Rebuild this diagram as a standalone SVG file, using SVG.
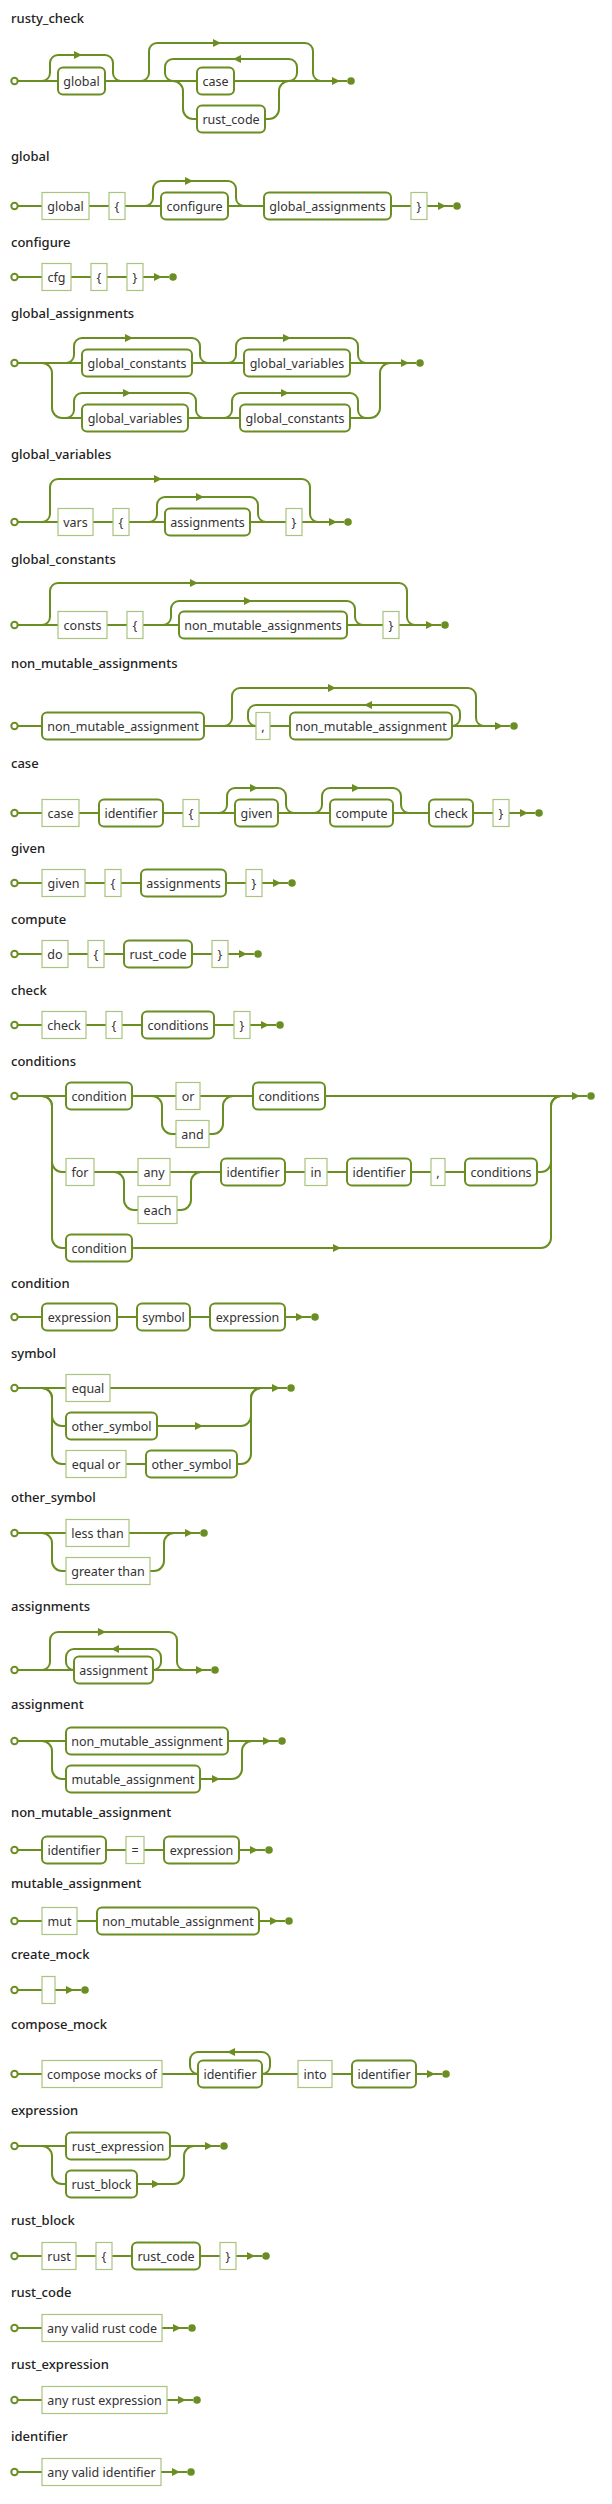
<svg xmlns="http://www.w3.org/2000/svg" xmlns:xlink="http://www.w3.org/1999/xlink" width="612" height="2504" viewBox="0 0 612 2504">
<style>
.t{font-family:"Noto Sans","Open Sans",sans-serif;font-size:13px;font-weight:500;fill:#222}
.l{font-family:"Noto Sans","Open Sans",sans-serif;font-size:12.5px;fill:#333;text-anchor:middle}
.nt rect{fill:#fff;stroke:#6b8e23;stroke-width:2}
.tm rect{fill:#fff;stroke:#a9c47f;stroke-width:1.2}
.c path{fill:none;stroke:#6b8e23;stroke-width:2}
.s{fill:#fff;stroke:#6b8e23;stroke-width:2}
.e{fill:#6b8e23}
</style>
<defs>
<path id="ar" d="M-8 -4L0 0L-8 4Z" fill="#6b8e23"/>
<path id="al" d="M8 -4L0 0L8 4Z" fill="#6b8e23"/>
</defs>
<rect width="612" height="2504" fill="#fff"/>

<g id="rusty_check">
<text class="t" x="11" y="23">rusty_check</text>
<g class="c">
<path d="M18 81H347"/>
<path d="M42 81A8 8 0 0 0 50 73V63A8 8 0 0 1 58 55H105A8 8 0 0 1 113 63V73A8 8 0 0 0 121 81"/>
<path d="M141 81A8 8 0 0 0 149 73V51A8 8 0 0 1 157 43H305A8 8 0 0 1 313 51V73A8 8 0 0 0 321 81"/>
<path d="M289 81A8 8 0 0 0 297 73V67A8 8 0 0 0 289 59H173A8 8 0 0 0 165 67V73A8 8 0 0 0 173 81"/>
<path d="M173 81A10 10 0 0 1 183 91V109A10 10 0 0 0 193 119H269A10 10 0 0 0 279 109V91A10 10 0 0 1 289 81"/>
<use href="#ar" x="82" y="55"/><use href="#ar" x="221" y="43"/><use href="#al" x="233" y="59"/>
<use href="#ar" x="340" y="81"/>
</g>
<circle class="s" cx="14.5" cy="81" r="3.2"/><circle class="e" cx="351" cy="81" r="3.8"/>
<g id="rusty_check-global" class="nt"><rect x="58" y="67.5" width="47" height="27" rx="5"/><text class="l" x="81.5" y="85.5">global</text></g>
<g id="rusty_check-case" class="nt"><rect x="197" y="67.5" width="37" height="27" rx="5"/><text class="l" x="215.5" y="85.5">case</text></g>
<g id="rusty_check-rust_code" class="nt"><rect x="197" y="105.5" width="68" height="27" rx="5"/><text class="l" x="231" y="123.5">rust_code</text></g>
</g>

<g id="global">
<text class="t" x="11" y="161">global</text>
<g class="c">
<path d="M18 206H453"/>
<path d="M145 206A8 8 0 0 0 153 198V189A8 8 0 0 1 161 181H228A8 8 0 0 1 236 189V198A8 8 0 0 0 244 206"/>
<use href="#ar" x="193" y="181"/><use href="#ar" x="446" y="206"/>
</g>
<circle class="s" cx="14.5" cy="206" r="3.2"/><circle class="e" cx="457" cy="206" r="3.8"/>
<g id="global-kw" class="tm"><rect x="42" y="192.5" width="47" height="27"/><text class="l" x="65.5" y="210.5">global</text></g>
<g id="global-lb" class="tm"><rect x="109" y="192.5" width="16" height="27"/><text class="l" x="117" y="210.5">{</text></g>
<g id="global-configure" class="nt"><rect x="161" y="192.5" width="67" height="27" rx="5"/><text class="l" x="194.5" y="210.5">configure</text></g>
<g id="global-global_assignments" class="nt"><rect x="264" y="192.5" width="127" height="27" rx="5"/><text class="l" x="327.5" y="210.5">global_assignments</text></g>
<g id="global-rb" class="tm"><rect x="411" y="192.5" width="16" height="27"/><text class="l" x="419" y="210.5">}</text></g>
</g>

<g id="configure">
<text class="t" x="11" y="247">configure</text>
<g class="c"><path d="M18 277H169"/><use href="#ar" x="162" y="277"/></g>
<circle class="s" cx="14.5" cy="277" r="3.2"/><circle class="e" cx="173" cy="277" r="3.8"/>
<g id="configure-cfg" class="tm"><rect x="42" y="263.5" width="29" height="27"/><text class="l" x="56.5" y="281.5">cfg</text></g>
<g id="configure-lb" class="tm"><rect x="91" y="263.5" width="16" height="27"/><text class="l" x="99" y="281.5">{</text></g>
<g id="configure-rb" class="tm"><rect x="127" y="263.5" width="16" height="27"/><text class="l" x="135" y="281.5">}</text></g>
</g>

<g id="global_assignments">
<text class="t" x="11" y="318">global_assignments</text>
<g class="c">
<path d="M18 363H416"/>
<path d="M42 363A10 10 0 0 1 52 373V408A10 10 0 0 0 62 418H370A10 10 0 0 0 380 408V373A10 10 0 0 1 390 363"/>
<path d="M66 363A8 8 0 0 0 74 355V346A8 8 0 0 1 82 338H192A8 8 0 0 1 200 346V355A8 8 0 0 0 208 363"/>
<path d="M228 363A8 8 0 0 0 236 355V346A8 8 0 0 1 244 338H350A8 8 0 0 1 358 346V355A8 8 0 0 0 366 363"/>
<path d="M66 418A8 8 0 0 0 74 410V401A8 8 0 0 1 82 393H188A8 8 0 0 1 196 401V410A8 8 0 0 0 204 418"/>
<path d="M224 418A8 8 0 0 0 232 410V401A8 8 0 0 1 240 393H350A8 8 0 0 1 358 401V410A8 8 0 0 0 366 418"/>
<use href="#ar" x="133" y="338"/><use href="#ar" x="291" y="338"/><use href="#ar" x="131" y="393"/><use href="#ar" x="289" y="393"/>
<use href="#ar" x="409" y="363"/>
</g>
<circle class="s" cx="14.5" cy="363" r="3.2"/><circle class="e" cx="420" cy="363" r="3.8"/>
<g id="global_assignments-c1" class="nt"><rect x="82" y="349.5" width="110" height="27" rx="5"/><text class="l" x="137" y="367.5">global_constants</text></g>
<g id="global_assignments-v1" class="nt"><rect x="244" y="349.5" width="106" height="27" rx="5"/><text class="l" x="297" y="367.5">global_variables</text></g>
<g id="global_assignments-v2" class="nt"><rect x="82" y="404.5" width="106" height="27" rx="5"/><text class="l" x="135" y="422.5">global_variables</text></g>
<g id="global_assignments-c2" class="nt"><rect x="240" y="404.5" width="110" height="27" rx="5"/><text class="l" x="295" y="422.5">global_constants</text></g>
</g>

<g id="global_variables">
<text class="t" x="11" y="459">global_variables</text>
<g class="c">
<path d="M18 522H344"/>
<path d="M42 522A8 8 0 0 0 50 514V487A8 8 0 0 1 58 479H302A8 8 0 0 1 310 487V514A8 8 0 0 0 318 522"/>
<path d="M149 522A8 8 0 0 0 157 514V505A8 8 0 0 1 165 497H250A8 8 0 0 1 258 505V514A8 8 0 0 0 266 522"/>
<use href="#ar" x="162" y="479"/><use href="#ar" x="204" y="497"/><use href="#ar" x="337" y="522"/>
</g>
<circle class="s" cx="14.5" cy="522" r="3.2"/><circle class="e" cx="348" cy="522" r="3.8"/>
<g id="global_variables-vars" class="tm"><rect x="58" y="508.5" width="35" height="27"/><text class="l" x="75.5" y="526.5">vars</text></g>
<g id="global_variables-lb" class="tm"><rect x="113" y="508.5" width="16" height="27"/><text class="l" x="121" y="526.5">{</text></g>
<g id="global_variables-assignments" class="nt"><rect x="165" y="508.5" width="85" height="27" rx="5"/><text class="l" x="207.5" y="526.5">assignments</text></g>
<g id="global_variables-rb" class="tm"><rect x="286" y="508.5" width="16" height="27"/><text class="l" x="294" y="526.5">}</text></g>
</g>

<g id="global_constants">
<text class="t" x="11" y="564">global_constants</text>
<g class="c">
<path d="M18 625H441"/>
<path d="M42 625A8 8 0 0 0 50 617V591A8 8 0 0 1 58 583H399A8 8 0 0 1 407 591V617A8 8 0 0 0 415 625"/>
<path d="M163 625A8 8 0 0 0 171 617V609A8 8 0 0 1 179 601H347A8 8 0 0 1 355 609V617A8 8 0 0 0 363 625"/>
<use href="#ar" x="198" y="583"/><use href="#ar" x="252" y="601"/><use href="#ar" x="434" y="625"/>
</g>
<circle class="s" cx="14.5" cy="625" r="3.2"/><circle class="e" cx="445" cy="625" r="3.8"/>
<g id="global_constants-consts" class="tm"><rect x="58" y="611.5" width="49" height="27"/><text class="l" x="82.5" y="629.5">consts</text></g>
<g id="global_constants-lb" class="tm"><rect x="127" y="611.5" width="16" height="27"/><text class="l" x="135" y="629.5">{</text></g>
<g id="global_constants-nmas" class="nt"><rect x="179" y="611.5" width="168" height="27" rx="5"/><text class="l" x="263" y="629.5">non_mutable_assignments</text></g>
<g id="global_constants-rb" class="tm"><rect x="383" y="611.5" width="16" height="27"/><text class="l" x="391" y="629.5">}</text></g>
</g>

<g id="non_mutable_assignments">
<text class="t" x="11" y="668">non_mutable_assignments</text>
<g class="c">
<path d="M18 726H510"/>
<path d="M224 726A8 8 0 0 0 232 718V696A8 8 0 0 1 240 688H468A8 8 0 0 1 476 696V718A8 8 0 0 0 484 726"/>
<path d="M452 726A8 8 0 0 0 460 718V713A8 8 0 0 0 452 705H256A8 8 0 0 0 248 713V718A8 8 0 0 0 256 726"/>
<use href="#ar" x="336" y="688"/><use href="#al" x="364" y="705"/><use href="#ar" x="503" y="726"/>
</g>
<circle class="s" cx="14.5" cy="726" r="3.2"/><circle class="e" cx="514" cy="726" r="3.8"/>
<g id="non_mutable_assignments-nma1" class="nt"><rect x="42" y="712.5" width="162" height="27" rx="5"/><text class="l" x="123" y="730.5">non_mutable_assignment</text></g>
<g id="non_mutable_assignments-comma" class="tm"><rect x="256" y="712.5" width="14" height="27"/><text class="l" x="263" y="730.5">,</text></g>
<g id="non_mutable_assignments-nma2" class="nt"><rect x="290" y="712.5" width="162" height="27" rx="5"/><text class="l" x="371" y="730.5">non_mutable_assignment</text></g>
</g>

<g id="case">
<text class="t" x="11" y="768">case</text>
<g class="c">
<path d="M18 813H535"/>
<path d="M219 813A8 8 0 0 0 227 805V796A8 8 0 0 1 235 788H278A8 8 0 0 1 286 796V805A8 8 0 0 0 294 813"/>
<path d="M314 813A8 8 0 0 0 322 805V796A8 8 0 0 1 330 788H393A8 8 0 0 1 401 796V805A8 8 0 0 0 409 813"/>
<use href="#ar" x="258" y="788"/><use href="#ar" x="360" y="788"/><use href="#ar" x="528" y="813"/>
</g>
<circle class="s" cx="14.5" cy="813" r="3.2"/><circle class="e" cx="539" cy="813" r="3.8"/>
<g id="case-kw" class="tm"><rect x="42" y="799.5" width="37" height="27"/><text class="l" x="60.5" y="817.5">case</text></g>
<g id="case-identifier" class="nt"><rect x="99" y="799.5" width="64" height="27" rx="5"/><text class="l" x="131" y="817.5">identifier</text></g>
<g id="case-lb" class="tm"><rect x="183" y="799.5" width="16" height="27"/><text class="l" x="191" y="817.5">{</text></g>
<g id="case-given" class="nt"><rect x="235" y="799.5" width="43" height="27" rx="5"/><text class="l" x="256.5" y="817.5">given</text></g>
<g id="case-compute" class="nt"><rect x="330" y="799.5" width="63" height="27" rx="5"/><text class="l" x="361.5" y="817.5">compute</text></g>
<g id="case-check" class="nt"><rect x="429" y="799.5" width="44" height="27" rx="5"/><text class="l" x="451" y="817.5">check</text></g>
<g id="case-rb" class="tm"><rect x="493" y="799.5" width="16" height="27"/><text class="l" x="501" y="817.5">}</text></g>
</g>

<g id="given">
<text class="t" x="11" y="853">given</text>
<g class="c"><path d="M18 883H288"/><use href="#ar" x="281" y="883"/></g>
<circle class="s" cx="14.5" cy="883" r="3.2"/><circle class="e" cx="292" cy="883" r="3.8"/>
<g id="given-kw" class="tm"><rect x="42" y="869.5" width="43" height="27"/><text class="l" x="63.5" y="887.5">given</text></g>
<g id="given-lb" class="tm"><rect x="105" y="869.5" width="16" height="27"/><text class="l" x="113" y="887.5">{</text></g>
<g id="given-assignments" class="nt"><rect x="141" y="869.5" width="85" height="27" rx="5"/><text class="l" x="183.5" y="887.5">assignments</text></g>
<g id="given-rb" class="tm"><rect x="246" y="869.5" width="16" height="27"/><text class="l" x="254" y="887.5">}</text></g>
</g>

<g id="compute">
<text class="t" x="11" y="924">compute</text>
<g class="c"><path d="M18 954H254"/><use href="#ar" x="247" y="954"/></g>
<circle class="s" cx="14.5" cy="954" r="3.2"/><circle class="e" cx="258" cy="954" r="3.8"/>
<g id="compute-do" class="tm"><rect x="42" y="940.5" width="26" height="27"/><text class="l" x="55" y="958.5">do</text></g>
<g id="compute-lb" class="tm"><rect x="88" y="940.5" width="16" height="27"/><text class="l" x="96" y="958.5">{</text></g>
<g id="compute-rust_code" class="nt"><rect x="124" y="940.5" width="68" height="27" rx="5"/><text class="l" x="158" y="958.5">rust_code</text></g>
<g id="compute-rb" class="tm"><rect x="212" y="940.5" width="16" height="27"/><text class="l" x="220" y="958.5">}</text></g>
</g>

<g id="check">
<text class="t" x="11" y="995">check</text>
<g class="c"><path d="M18 1025H276"/><use href="#ar" x="269" y="1025"/></g>
<circle class="s" cx="14.5" cy="1025" r="3.2"/><circle class="e" cx="280" cy="1025" r="3.8"/>
<g id="check-kw" class="tm"><rect x="42" y="1011.5" width="44" height="27"/><text class="l" x="64" y="1029.5">check</text></g>
<g id="check-lb" class="tm"><rect x="106" y="1011.5" width="16" height="27"/><text class="l" x="114" y="1029.5">{</text></g>
<g id="check-conditions" class="nt"><rect x="142" y="1011.5" width="72" height="27" rx="5"/><text class="l" x="178" y="1029.5">conditions</text></g>
<g id="check-rb" class="tm"><rect x="234" y="1011.5" width="16" height="27"/><text class="l" x="242" y="1029.5">}</text></g>
</g>

<g id="conditions">
<text class="t" x="11" y="1066">conditions</text>
<g class="c">
<path d="M18 1096H587"/>
<path d="M42 1096A10 10 0 0 1 52 1106V1162A10 10 0 0 0 62 1172H541A10 10 0 0 0 551 1162V1106A10 10 0 0 1 561 1096"/>
<path d="M42 1096A10 10 0 0 1 52 1106V1238A10 10 0 0 0 62 1248H541A10 10 0 0 0 551 1238V1106A10 10 0 0 1 561 1096"/>
<path d="M152 1096A10 10 0 0 1 162 1106V1124A10 10 0 0 0 172 1134H213A10 10 0 0 0 223 1124V1106A10 10 0 0 1 233 1096"/>
<path d="M114 1172A10 10 0 0 1 124 1182V1200A10 10 0 0 0 134 1210H181A10 10 0 0 0 191 1200V1182A10 10 0 0 1 201 1172"/>
<use href="#ar" x="341" y="1248"/><use href="#ar" x="580" y="1096"/>
</g>
<circle class="s" cx="14.5" cy="1096" r="3.2"/><circle class="e" cx="591" cy="1096" r="3.8"/>
<g id="conditions-condition1" class="nt"><rect x="66" y="1082.5" width="66" height="27" rx="5"/><text class="l" x="99" y="1100.5">condition</text></g>
<g id="conditions-or" class="tm"><rect x="176" y="1082.5" width="24" height="27"/><text class="l" x="188" y="1100.5">or</text></g>
<g id="conditions-and" class="tm"><rect x="176" y="1120.5" width="33" height="27"/><text class="l" x="192.5" y="1138.5">and</text></g>
<g id="conditions-conditions1" class="nt"><rect x="253" y="1082.5" width="72" height="27" rx="5"/><text class="l" x="289" y="1100.5">conditions</text></g>
<g id="conditions-for" class="tm"><rect x="66" y="1158.5" width="28" height="27"/><text class="l" x="80" y="1176.5">for</text></g>
<g id="conditions-any" class="tm"><rect x="138" y="1158.5" width="32" height="27"/><text class="l" x="154" y="1176.5">any</text></g>
<g id="conditions-each" class="tm"><rect x="138" y="1196.5" width="39" height="27"/><text class="l" x="157.5" y="1214.5">each</text></g>
<g id="conditions-identifier1" class="nt"><rect x="221" y="1158.5" width="64" height="27" rx="5"/><text class="l" x="253" y="1176.5">identifier</text></g>
<g id="conditions-in" class="tm"><rect x="305" y="1158.5" width="22" height="27"/><text class="l" x="316" y="1176.5">in</text></g>
<g id="conditions-identifier2" class="nt"><rect x="347" y="1158.5" width="64" height="27" rx="5"/><text class="l" x="379" y="1176.5">identifier</text></g>
<g id="conditions-comma" class="tm"><rect x="431" y="1158.5" width="14" height="27"/><text class="l" x="438" y="1176.5">,</text></g>
<g id="conditions-conditions2" class="nt"><rect x="465" y="1158.5" width="72" height="27" rx="5"/><text class="l" x="501" y="1176.5">conditions</text></g>
<g id="conditions-condition2" class="nt"><rect x="66" y="1234.5" width="66" height="27" rx="5"/><text class="l" x="99" y="1252.5">condition</text></g>
</g>

<g id="condition">
<text class="t" x="11" y="1288">condition</text>
<g class="c"><path d="M18 1317H311"/><use href="#ar" x="304" y="1317"/></g>
<circle class="s" cx="14.5" cy="1317" r="3.2"/><circle class="e" cx="315" cy="1317" r="3.8"/>
<g id="condition-expression1" class="nt"><rect x="42" y="1303.5" width="75" height="27" rx="5"/><text class="l" x="79.5" y="1321.5">expression</text></g>
<g id="condition-symbol" class="nt"><rect x="137" y="1303.5" width="53" height="27" rx="5"/><text class="l" x="163.5" y="1321.5">symbol</text></g>
<g id="condition-expression2" class="nt"><rect x="210" y="1303.5" width="75" height="27" rx="5"/><text class="l" x="247.5" y="1321.5">expression</text></g>
</g>

<g id="symbol">
<text class="t" x="11" y="1358">symbol</text>
<g class="c">
<path d="M18 1388H287"/>
<path d="M42 1388A10 10 0 0 1 52 1398V1416A10 10 0 0 0 62 1426H241A10 10 0 0 0 251 1416V1398A10 10 0 0 1 261 1388"/>
<path d="M42 1388A10 10 0 0 1 52 1398V1454A10 10 0 0 0 62 1464H241A10 10 0 0 0 251 1454V1398A10 10 0 0 1 261 1388"/>
<use href="#ar" x="203" y="1426"/><use href="#ar" x="280" y="1388"/>
</g>
<circle class="s" cx="14.5" cy="1388" r="3.2"/><circle class="e" cx="291" cy="1388" r="3.8"/>
<g id="symbol-equal" class="tm"><rect x="66" y="1374.5" width="44" height="27"/><text class="l" x="88" y="1392.5">equal</text></g>
<g id="symbol-other_symbol1" class="nt"><rect x="66" y="1412.5" width="91" height="27" rx="5"/><text class="l" x="111.5" y="1430.5">other_symbol</text></g>
<g id="symbol-equal_or" class="tm"><rect x="66" y="1450.5" width="60" height="27"/><text class="l" x="96" y="1468.5">equal or</text></g>
<g id="symbol-other_symbol2" class="nt"><rect x="146" y="1450.5" width="91" height="27" rx="5"/><text class="l" x="191.5" y="1468.5">other_symbol</text></g>
</g>

<g id="other_symbol">
<text class="t" x="11" y="1502">other_symbol</text>
<g class="c">
<path d="M18 1533H200"/>
<path d="M42 1533A10 10 0 0 1 52 1543V1561A10 10 0 0 0 62 1571H154A10 10 0 0 0 164 1561V1543A10 10 0 0 1 174 1533"/>
<use href="#ar" x="193" y="1533"/>
</g>
<circle class="s" cx="14.5" cy="1533" r="3.2"/><circle class="e" cx="204" cy="1533" r="3.8"/>
<g id="other_symbol-less" class="tm"><rect x="66" y="1519.5" width="63" height="27"/><text class="l" x="97.5" y="1537.5">less than</text></g>
<g id="other_symbol-greater" class="tm"><rect x="66" y="1557.5" width="84" height="27"/><text class="l" x="108" y="1575.5">greater than</text></g>
</g>

<g id="assignments">
<text class="t" x="11" y="1611">assignments</text>
<g class="c">
<path d="M18 1670H211"/>
<path d="M42 1670A8 8 0 0 0 50 1662V1640A8 8 0 0 1 58 1632H169A8 8 0 0 1 177 1640V1662A8 8 0 0 0 185 1670"/>
<path d="M153 1670A8 8 0 0 0 161 1662V1657A8 8 0 0 0 153 1649H74A8 8 0 0 0 66 1657V1662A8 8 0 0 0 74 1670"/>
<use href="#ar" x="106" y="1632"/><use href="#al" x="111" y="1649"/><use href="#ar" x="204" y="1670"/>
</g>
<circle class="s" cx="14.5" cy="1670" r="3.2"/><circle class="e" cx="215" cy="1670" r="3.8"/>
<g id="assignments-assignment" class="nt"><rect x="74" y="1656.5" width="79" height="27" rx="5"/><text class="l" x="113.5" y="1674.5">assignment</text></g>
</g>

<g id="assignment">
<text class="t" x="11" y="1709">assignment</text>
<g class="c">
<path d="M18 1741H278"/>
<path d="M42 1741A10 10 0 0 1 52 1751V1769A10 10 0 0 0 62 1779H232A10 10 0 0 0 242 1769V1751A10 10 0 0 1 252 1741"/>
<use href="#ar" x="220" y="1779"/><use href="#ar" x="271" y="1741"/>
</g>
<circle class="s" cx="14.5" cy="1741" r="3.2"/><circle class="e" cx="282" cy="1741" r="3.8"/>
<g id="assignment-nma" class="nt"><rect x="66" y="1727.5" width="162" height="27" rx="5"/><text class="l" x="147" y="1745.5">non_mutable_assignment</text></g>
<g id="assignment-ma" class="nt"><rect x="66" y="1765.5" width="134" height="27" rx="5"/><text class="l" x="133" y="1783.5">mutable_assignment</text></g>
</g>

<g id="non_mutable_assignment">
<text class="t" x="11" y="1817">non_mutable_assignment</text>
<g class="c"><path d="M18 1850H265"/><use href="#ar" x="258" y="1850"/></g>
<circle class="s" cx="14.5" cy="1850" r="3.2"/><circle class="e" cx="269" cy="1850" r="3.8"/>
<g id="non_mutable_assignment-identifier" class="nt"><rect x="42" y="1836.5" width="64" height="27" rx="5"/><text class="l" x="74" y="1854.5">identifier</text></g>
<g id="non_mutable_assignment-eq" class="tm"><rect x="126" y="1836.5" width="18" height="27"/><text class="l" x="135" y="1854.5">=</text></g>
<g id="non_mutable_assignment-expression" class="nt"><rect x="164" y="1836.5" width="75" height="27" rx="5"/><text class="l" x="201.5" y="1854.5">expression</text></g>
</g>

<g id="mutable_assignment">
<text class="t" x="11" y="1888">mutable_assignment</text>
<g class="c"><path d="M18 1921H285"/><use href="#ar" x="278" y="1921"/></g>
<circle class="s" cx="14.5" cy="1921" r="3.2"/><circle class="e" cx="289" cy="1921" r="3.8"/>
<g id="mutable_assignment-mut" class="tm"><rect x="42" y="1907.5" width="35" height="27"/><text class="l" x="59.5" y="1925.5">mut</text></g>
<g id="mutable_assignment-nma" class="nt"><rect x="97" y="1907.5" width="162" height="27" rx="5"/><text class="l" x="178" y="1925.5">non_mutable_assignment</text></g>
</g>

<g id="create_mock">
<text class="t" x="11" y="1959">create_mock</text>
<g class="c"><path d="M18 1990H81"/><use href="#ar" x="74" y="1990"/></g>
<circle class="s" cx="14.5" cy="1990" r="3.2"/><circle class="e" cx="85" cy="1990" r="3.8"/>
<g id="create_mock-empty" class="tm"><rect x="42" y="1976.5" width="13" height="27"/></g>
</g>

<g id="compose_mock">
<text class="t" x="11" y="2029">compose_mock</text>
<g class="c">
<path d="M18 2074H442"/>
<path d="M262 2074A8 8 0 0 0 270 2066V2060A8 8 0 0 0 262 2052H198A8 8 0 0 0 190 2060V2066A8 8 0 0 0 198 2074"/>
<use href="#al" x="227" y="2052"/><use href="#ar" x="435" y="2074"/>
</g>
<circle class="s" cx="14.5" cy="2074" r="3.2"/><circle class="e" cx="446" cy="2074" r="3.8"/>
<g id="compose_mock-kw" class="tm"><rect x="42" y="2060.5" width="120" height="27"/><text class="l" x="102" y="2078.5">compose mocks of</text></g>
<g id="compose_mock-identifier1" class="nt"><rect x="198" y="2060.5" width="64" height="27" rx="5"/><text class="l" x="230" y="2078.5">identifier</text></g>
<g id="compose_mock-into" class="tm"><rect x="298" y="2060.5" width="34" height="27"/><text class="l" x="315" y="2078.5">into</text></g>
<g id="compose_mock-identifier2" class="nt"><rect x="352" y="2060.5" width="64" height="27" rx="5"/><text class="l" x="384" y="2078.5">identifier</text></g>
</g>

<g id="expression">
<text class="t" x="11" y="2115">expression</text>
<g class="c">
<path d="M18 2146H220"/>
<path d="M42 2146A10 10 0 0 1 52 2156V2174A10 10 0 0 0 62 2184H174A10 10 0 0 0 184 2174V2156A10 10 0 0 1 194 2146"/>
<use href="#ar" x="160" y="2184"/><use href="#ar" x="213" y="2146"/>
</g>
<circle class="s" cx="14.5" cy="2146" r="3.2"/><circle class="e" cx="224" cy="2146" r="3.8"/>
<g id="expression-rust_expression" class="nt"><rect x="66" y="2132.5" width="104" height="27" rx="5"/><text class="l" x="118" y="2150.5">rust_expression</text></g>
<g id="expression-rust_block" class="nt"><rect x="66" y="2170.5" width="71" height="27" rx="5"/><text class="l" x="101.5" y="2188.5">rust_block</text></g>
</g>

<g id="rust_block">
<text class="t" x="11" y="2225">rust_block</text>
<g class="c"><path d="M18 2256H262"/><use href="#ar" x="255" y="2256"/></g>
<circle class="s" cx="14.5" cy="2256" r="3.2"/><circle class="e" cx="266" cy="2256" r="3.8"/>
<g id="rust_block-rust" class="tm"><rect x="42" y="2242.5" width="34" height="27"/><text class="l" x="59" y="2260.5">rust</text></g>
<g id="rust_block-lb" class="tm"><rect x="96" y="2242.5" width="16" height="27"/><text class="l" x="104" y="2260.5">{</text></g>
<g id="rust_block-rust_code" class="nt"><rect x="132" y="2242.5" width="68" height="27" rx="5"/><text class="l" x="166" y="2260.5">rust_code</text></g>
<g id="rust_block-rb" class="tm"><rect x="220" y="2242.5" width="16" height="27"/><text class="l" x="228" y="2260.5">}</text></g>
</g>

<g id="rust_code">
<text class="t" x="11" y="2297">rust_code</text>
<g class="c"><path d="M18 2328H188"/><use href="#ar" x="181" y="2328"/></g>
<circle class="s" cx="14.5" cy="2328" r="3.2"/><circle class="e" cx="192" cy="2328" r="3.8"/>
<g id="rust_code-any" class="tm"><rect x="42" y="2314.5" width="120" height="27"/><text class="l" x="102" y="2332.5">any valid rust code</text></g>
</g>

<g id="rust_expression">
<text class="t" x="11" y="2369">rust_expression</text>
<g class="c"><path d="M18 2400H193"/><use href="#ar" x="186" y="2400"/></g>
<circle class="s" cx="14.5" cy="2400" r="3.2"/><circle class="e" cx="197" cy="2400" r="3.8"/>
<g id="rust_expression-any" class="tm"><rect x="42" y="2386.5" width="125" height="27"/><text class="l" x="104.5" y="2404.5">any rust expression</text></g>
</g>

<g id="identifier">
<text class="t" x="11" y="2441">identifier</text>
<g class="c"><path d="M18 2472H187"/><use href="#ar" x="180" y="2472"/></g>
<circle class="s" cx="14.5" cy="2472" r="3.2"/><circle class="e" cx="191" cy="2472" r="3.8"/>
<g id="identifier-any" class="tm"><rect x="42" y="2458.5" width="119" height="27"/><text class="l" x="101.5" y="2476.5">any valid identifier</text></g>
</g>
</svg>
